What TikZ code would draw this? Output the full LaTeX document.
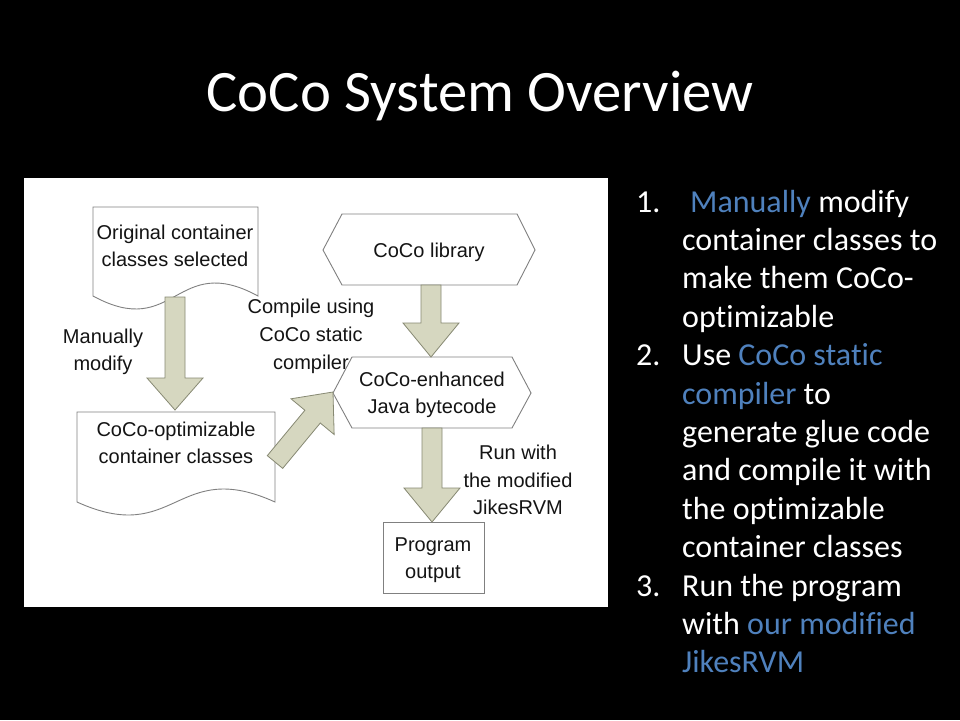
\documentclass[tikz,border=0pt]{standalone}
\usepackage{fontspec}
\setmainfont{Carlito}[Ligatures={NoCommon,NoContextual,NoRare},RawFeature={-clig}]
\newfontfamily\arialf{Liberation Sans}
\usetikzlibrary{calc}
\definecolor{accblue}{RGB}{79,129,189}
\definecolor{arrfill}{RGB}{214,215,192}
\definecolor{arrdraw}{RGB}{135,137,115}
\definecolor{shapeline}{RGB}{128,128,128}
\definecolor{dtext}{RGB}{20,20,20}
\newcommand{\fatarrow}[3]{%
  \coordinate (hb) at ($(#2)!#3!(#1)$);
  \draw[fatarr] ($(#1)!10pt!90:(#2)$) -- ($(hb)!10pt!-90:(#1)$) -- ($(hb)!28pt!-90:(#1)$) -- (#2)
    -- ($(hb)!28pt!90:(#1)$) -- ($(hb)!10pt!90:(#1)$) -- ($(#1)!10pt!-90:(#2)$) -- cycle;}
\tikzset{
  fatarr/.style={fill=arrfill, draw=arrdraw, line width=0.8pt, line join=miter},
  shapeln/.style={draw=shapeline, line width=0.9pt, fill=white},
  dlabel/.style={font=\arialf\fontsize{20}{24}\selectfont, text=dtext, inner sep=0pt, anchor=base},
  bline/.style={font=\fontsize{32}{38.4}\selectfont, text=white, inner sep=0pt, anchor=base west},
  slidetitle/.style={font=\fontsize{58.7}{70}\selectfont, text=white, inner sep=0pt, anchor=base}
}
\begin{document}
\begin{tikzpicture}[x=1pt,y=-1pt]
\fill[black] (0,0) rectangle (960,720);
\useasboundingbox (0,0) rectangle (960,720);
% title
\node[slidetitle] (title) at (480,111) {CoCo System Overview};
% white panel
\fill[white] (24,178) rectangle (608,607);
% document shapes
\draw[shapeln] (93,207) -- (258,207) -- (258,296) .. controls (175.5,251) and (175.5,341) .. (93,296) -- cycle;
\draw[shapeln] (77,412) -- (275,412) -- (275,502) .. controls (176,457) and (176,547) .. (77,502) -- cycle;
% hexagons
\draw[shapeln] (323,250) -- (342,214) -- (517,214) -- (535,250) -- (517,285) -- (342,285) -- cycle;
\draw[shapeln] (333,393) -- (352,357) -- (512,357) -- (531,393) -- (512,428) -- (352,428) -- cycle;
% program output box
\draw[shapeln] (383,522) rectangle (484,593);
% texts in shapes
\node[dlabel] (d1a) at (175,239) {Original container};
\node[dlabel] (d1b) at (175,266) {classes selected};
\node[dlabel] (d2a) at (176,436) {CoCo-optimizable};
\node[dlabel] (d2b) at (176,463) {container classes};
\node[dlabel] (h1) at (429,257) {CoCo library};
\node[dlabel] (h2a) at (432,386) {CoCo-enhanced};
\node[dlabel] (h2b) at (432,413) {Java bytecode};
\node[dlabel] (poa) at (433,551) {Program};
\node[dlabel] (pob) at (433,578) {output};
% arrow end points
\coordinate (a1t) at (175,297);
\coordinate (a1h) at (175,410);
\coordinate (a2t) at (431,285);
\coordinate (a2h) at (431,357);
\coordinate (a3t) at (432,428);
\coordinate (a3h) at (432,522);
\coordinate (a4t) at (275,462);
\coordinate (a4h) at (333,392);
\fatarrow{a1t}{a1h}{32pt}
\fatarrow{a2t}{a2h}{34pt}
\fatarrow{a3t}{a3h}{34pt}
\fatarrow{a4t}{a4h}{32pt}
% arrow labels
\node[dlabel] (m1) at (103,343) {Manually};
\node[dlabel] (m2) at (103,370) {modify};
\node[dlabel] (c1) at (311,313) {Compile using};
\node[dlabel] (c2) at (311,341) {CoCo static};
\node[dlabel] (c3) at (311,369) {compiler};
\node[dlabel] (r1) at (518,459) {Run with};
\node[dlabel] (r2) at (518,487) {the modified};
\node[dlabel] (r3) at (518,514) {JikesRVM};
% bullet list
\node[bline] (n1) at (636,212) {1.};
\node[bline] (l1) at (690,212) {\textcolor{accblue}{Manually} modify};
\node[bline] (l2) at (682,250.4) {container classes to};
\node[bline] (l3) at (682,288.8) {make them CoCo-};
\node[bline] (l4) at (682,327.2) {optimizable};
\node[bline] (n2) at (636,365.6) {2.};
\node[bline] (l5) at (682,365.6) {Use \textcolor{accblue}{CoCo static}};
\node[bline] (l6) at (682,404) {\textcolor{accblue}{compiler} to};
\node[bline] (l7) at (682,442.4) {generate glue code};
\node[bline] (l8) at (682,480.8) {and compile it with};
\node[bline] (l9) at (682,519.2) {the optimizable};
\node[bline] (l10) at (682,557.6) {container classes};
\node[bline] (n3) at (636,596) {3.};
\node[bline] (l11) at (682,596) {Run the program};
\node[bline] (l12) at (682,634.4) {with \textcolor{accblue}{our modified}};
\node[bline] (l13) at (682,672.8) {\textcolor{accblue}{JikesRVM}};
\end{tikzpicture}
\end{document}
